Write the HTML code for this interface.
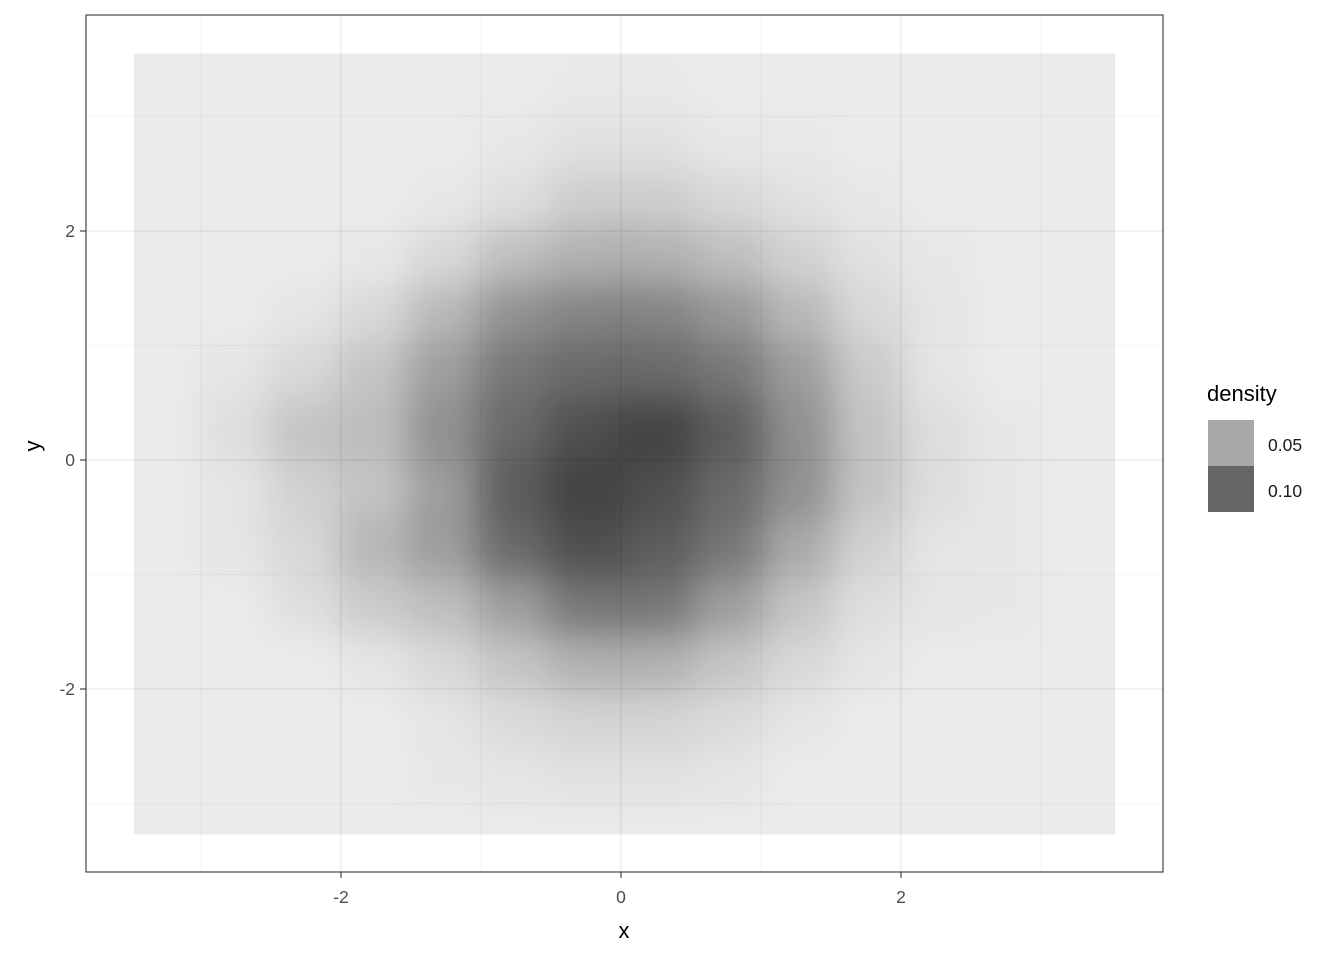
<!DOCTYPE html>
<html><head><meta charset="utf-8"><style>
body{margin:0;background:#fff}
svg text{font-family:"Liberation Sans",sans-serif}
</style></head><body>
<svg id="c" width="1344" height="960" xmlns="http://www.w3.org/2000/svg">
<defs>
<filter id="blur" x="-20%" y="-20%" width="140%" height="140%"><feGaussianBlur stdDeviation="18"/></filter>
<clipPath id="rclip"><rect id="rclipRect"/></clipPath>
</defs>
<rect x="86" y="15" width="1077" height="857" fill="#fff"/>
<g id="grid"></g>
<rect id="rasterBase" fill="#000" fill-opacity="0.08"/>
<g clip-path="url(#rclip)"><g id="raster" filter="url(#blur)"></g></g>
<rect x="86" y="15" width="1077" height="857" fill="none" stroke="#333" stroke-width="1.1"/>
<g id="axes"></g>
<text x="624" y="938" font-size="22" text-anchor="middle" fill="#000">x</text>
<text transform="translate(40,446) rotate(-90)" font-size="22" text-anchor="middle" fill="#000">y</text>
<g>
<text x="1207" y="401" font-size="22" fill="#000">density</text>
<rect x="1208" y="420" width="46" height="46" fill="#a9a9a9"/>
<rect x="1208" y="466" width="46" height="46" fill="#666"/>
<text x="1268" y="451" font-size="17.5" fill="#1a1a1a">0.05</text>
<text x="1268" y="497" font-size="17.5" fill="#1a1a1a">0.10</text>
</g>
</svg>
<script>
const xCenters=[-3.25,-2.75,-2.25,-1.75,-1.25,-0.75,-0.25,0.25,0.75,1.25,1.75,2.25,2.75,3.25];
const yCenters=[3.25,2.75,2.25,1.75,1.25,0.75,0.25,-0.25,-0.75,-1.25,-1.75,-2.25,-2.75,-3.25];
const density=[
[0,0,0,0,0,0,0.2,0.2,0,0,0,0,0,0],
[0,0,0,0,0,0.3,0.8,0.8,0.3,0.2,0,0,0,0],
[0,0,0,0,0.3,1,2.3,2.3,1.5,0.8,0.3,0,0,0],
[0,0,0,0.3,1.5,3.5,4.5,4.5,3.5,2,0.8,0.3,0,0],
[0,0,0.5,1.5,4,7,8,8,6.5,4,1.5,0.5,0,0],
[0,0.5,1.5,3,6,9,10,10,9,6,2.5,0.5,0,0],
[0,1,3,3.5,7,10,12,13,11,7,3,1,0.3,0],
[0,0.5,2,3,6,11,13,12,10,7,3,1,0.3,0],
[0,0.5,1.5,4,6,10,12,11,9,5,2,0.5,0.3,0],
[0,0,1,2.5,3.5,6,9,9,6,3,1,0.5,0.3,0],
[0,0,0,0.5,1.5,3,4.5,4.5,3,1.5,0.5,0,0,0],
[0,0,0,0,0.5,1.3,1.8,1.8,1.3,0.5,0,0,0,0],
[0,0,0,0,0.3,0.5,0.8,0.8,0.5,0,0,0,0,0],
[0,0,0,0,0,0,0,0,0,0,0,0,0,0]];
const xMajor=[-2,0,2], yMajor=[-2,0,2];
const xMinor=[-3,-1,1,3], yMinor=[-3,-1,1,3];
const xLabels=["-2","0","2"], yLabels=["-2","0","2"];
const rasterX=[-3.48,3.53], rasterY=[-3.27,3.55];

const NS="http://www.w3.org/2000/svg";
const sx=v=>621+140*v, sy=v=>460-114.5*v;
function mk(t,a,p){const e=document.createElementNS(NS,t);for(const k in a)e.setAttribute(k,a[k]);p.appendChild(e);return e;}
const grid=document.getElementById('grid'), axes=document.getElementById('axes'), raster=document.getElementById('raster');
xMinor.forEach(v=>{const l=mk('line',{x1:sx(v),x2:sx(v),y1:15,y2:872,stroke:'#ebebeb','stroke-width':0.6},grid);

});
yMinor.forEach(v=>{const l=mk('line',{y1:sy(v),y2:sy(v),x1:86,x2:1163,stroke:'#ebebeb','stroke-width':0.6},grid);

});
xMajor.forEach((v,i)=>{const l=mk('line',{x1:sx(v),x2:sx(v),y1:15,y2:872,stroke:'#ebebeb','stroke-width':1.2},grid);


const t=mk('line',{x1:sx(v),x2:sx(v),y1:872,y2:878,stroke:'#333','stroke-width':1.1},axes);


const tx=mk('text',{x:sx(v),y:903,'font-size':17.5,'text-anchor':'middle',fill:'#4d4d4d'},axes);tx.textContent=xLabels[i];

});
yMajor.forEach((v,i)=>{const l=mk('line',{y1:sy(v),y2:sy(v),x1:86,x2:1163,stroke:'#ebebeb','stroke-width':1.2},grid);


const t=mk('line',{y1:sy(v),y2:sy(v),x1:80,x2:86,stroke:'#333','stroke-width':1.1},axes);


const tx=mk('text',{x:75,y:sy(v)+6,'font-size':17.5,'text-anchor':'end',fill:'#4d4d4d'},axes);tx.textContent=yLabels[i];

});
const rx=sx(rasterX[0]), rw=sx(rasterX[1])-rx, ry=sy(rasterY[1]), rh=sy(rasterY[0])-ry;
[document.getElementById('rasterBase'),document.getElementById('rclipRect')].forEach(r=>{r.setAttribute('x',rx);r.setAttribute('y',ry);r.setAttribute('width',rw);r.setAttribute('height',rh);});
const cw=140*0.5, ch=114.5*0.5;
density.forEach((row,j)=>row.forEach((d,i)=>{
 const a=Math.min(0.85,5.2*d/100*1.05);
 const r=mk('rect',{x:sx(xCenters[i])-cw/2-1,y:sy(yCenters[j])-ch/2-1,width:cw+2,height:ch+2,fill:'#000','fill-opacity':a.toFixed(3)},raster);
 
 
}));
</script>
</body></html>
